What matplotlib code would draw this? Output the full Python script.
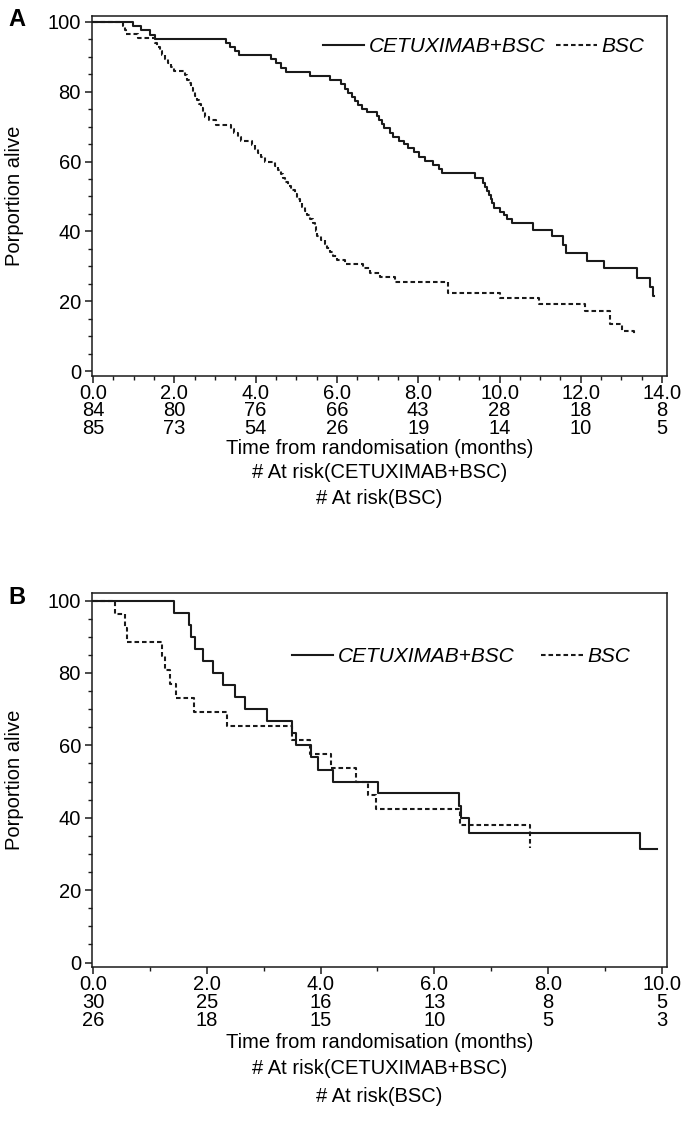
import matplotlib
matplotlib.use("Agg")
import matplotlib.pyplot as plt
import matplotlib.transforms as mtransforms
from matplotlib.ticker import MultipleLocator, FormatStrFormatter

plt.rcParams['font.family'] = ['Liberation Sans', 'DejaVu Sans']

# ---- Panel A: survival curves (time in months, % alive) ----
a_cet_t = [0, 0.98, 1.19, 1.39, 1.52, 3.28, 3.38, 3.50, 3.60, 4.39, 4.50, 4.62, 4.75,
           5.33, 5.82, 6.11, 6.20, 6.28, 6.36, 6.44, 6.52, 6.62, 6.73, 6.98, 7.04,
           7.10, 7.16, 7.30, 7.39, 7.52, 7.64, 7.75, 7.90, 8.03, 8.17, 8.37, 8.50,
           8.58, 9.40, 9.60, 9.65, 9.70, 9.73, 9.78, 9.81, 9.87, 10.01, 10.10, 10.18,
           10.30, 10.83, 11.29, 11.57, 11.64, 12.15, 12.56, 13.38, 13.69, 13.77, 13.80]
a_cet_s = [100, 98.8, 97.6, 96.4, 95.2, 94.0, 92.9, 91.7, 90.5, 89.3, 88.1, 86.9, 85.7,
           84.5, 83.3, 82.1, 80.9, 79.7, 78.5, 77.3, 76.1, 75.0, 74.3, 73.1, 71.9,
           70.7, 69.5, 68.3, 67.1, 66.0, 65.0, 63.8, 62.6, 61.4, 60.2, 59.0, 57.8,
           56.6, 55.2, 54.0, 52.8, 51.6, 50.4, 49.2, 48.0, 46.8, 45.5, 44.6, 43.6,
           42.3, 40.4, 38.8, 36.1, 33.7, 31.6, 29.4, 26.7, 24.0, 21.5, 21.5]

a_bsc_t = [0, 0.74, 0.78, 0.82, 1.11, 1.52, 1.58, 1.64, 1.70, 1.77, 1.85, 1.92, 1.99,
           2.26, 2.30, 2.35, 2.40, 2.45, 2.50, 2.55, 2.60, 2.65, 2.70, 2.75, 2.85, 3.03,
           3.40, 3.48, 3.56, 3.65, 3.90, 3.98, 4.06, 4.14, 4.22, 4.47, 4.55, 4.62, 4.68,
           4.72, 4.80, 4.88, 4.96, 5.02, 5.09, 5.15, 5.21, 5.27, 5.33, 5.41, 5.45, 5.48,
           5.50, 5.60, 5.70, 5.76, 5.82, 5.90, 5.99, 6.19, 6.64, 6.81, 7.06, 7.43, 8.74,
           10.01, 10.96, 12.11, 12.72, 13.01, 13.30, 13.34]
a_bsc_s = [100, 98.8, 97.6, 96.5, 95.3, 94.1, 92.9, 91.8, 90.6, 89.4, 88.2, 87.1, 86.0,
           84.7, 83.5, 82.4, 81.2, 80.0, 78.8, 77.6, 76.5, 75.3, 74.1, 72.9, 71.8, 70.6,
           69.4, 68.2, 67.1, 65.9, 64.7, 63.5, 62.4, 61.2, 60.0, 58.8, 57.6, 56.5, 55.3,
           54.1, 52.9, 51.8, 50.6, 49.4, 48.2, 47.1, 45.9, 44.7, 43.5, 42.3, 41.2, 40.0,
           38.8, 37.6, 36.5, 35.3, 34.1, 32.9, 31.8, 30.6, 29.4, 28.2, 26.8, 25.4, 22.3,
           20.8, 19.1, 17.2, 13.4, 11.5, 10.3, 10.3]

a_ticks = [0, 2, 4, 6, 8, 10, 12, 14]
a_risk_cet = [84, 80, 76, 66, 43, 28, 18, 8]
a_risk_bsc = [85, 73, 54, 26, 19, 14, 10, 5]

# ---- Panel B ----
b_cet_t = [0, 1.42, 1.68, 1.72, 1.79, 1.93, 2.11, 2.28, 2.49, 2.67, 3.05, 3.49, 3.57,
           3.84, 3.95, 4.22, 5.01, 6.44, 6.47, 6.61, 9.61, 9.92]
b_cet_s = [100, 96.7, 93.3, 90.0, 86.7, 83.3, 80.0, 76.7, 73.3, 70.0, 66.7, 63.3, 60.0,
           56.7, 53.3, 50.0, 46.7, 43.3, 39.9, 35.9, 31.4, 31.4]

b_bsc_t = [0, 0.39, 0.56, 0.60, 1.22, 1.27, 1.35, 1.45, 1.78, 2.36, 3.50, 3.81, 4.19,
           4.63, 4.84, 4.97, 6.45, 7.68, 7.68]
b_bsc_s = [100, 96.2, 92.3, 88.5, 84.6, 80.8, 76.9, 73.1, 69.2, 65.4, 61.5, 57.7, 53.8,
           50.0, 46.2, 42.3, 38.1, 38.1, 31.7]

b_ticks = [0, 2, 4, 6, 8, 10]
b_risk_cet = [30, 25, 16, 13, 8, 5]
b_risk_bsc = [26, 18, 15, 10, 5, 3]

W, H = 681, 1137
fig = plt.figure(figsize=(W / 100, H / 100), dpi=100)

INK = '#1a1a1a'
FS = 14.5


def panel(letter, top_px, bot_px, xlim, ylim, xminor, t1, s1, t2, s2,
          ticks, risk1, risk2, rows_px, leg_anchor, colspace):
    ax = fig.add_axes([92 / W, 1 - bot_px / H, 575 / W, (bot_px - top_px) / H])
    ax.step(t1, s1, where='post', color=INK, lw=1.5, label='CETUXIMAB+BSC')
    ax.step(t2, s2, where='post', color=INK, lw=1.5, linestyle=(0, (2.2, 1.4)), label='BSC')
    ax.set_xlim(*xlim)
    ax.set_ylim(*ylim)
    for sp in ax.spines.values():
        sp.set_linewidth(1.1)
        sp.set_color(INK)
    ax.set_xticks(ticks)
    ax.xaxis.set_minor_locator(MultipleLocator(xminor))
    ax.set_yticks([0, 20, 40, 60, 80, 100])
    ax.yaxis.set_minor_locator(MultipleLocator(5))
    ax.xaxis.set_major_formatter(FormatStrFormatter('%.1f'))
    ax.tick_params(which='major', length=5, width=1.1, color=INK, labelsize=FS, direction='out')
    ax.tick_params(which='minor', length=3, width=1.0, color=INK, direction='out')
    ax.tick_params(axis='x', pad=1)
    ax.tick_params(axis='y', pad=3)
    ax.set_ylabel('Porportion alive', fontsize=FS)
    ax.yaxis.set_label_coords(-0.118, 0.5)

    trans = mtransforms.blended_transform_factory(ax.transData, fig.transFigure)
    for x, r1, r2 in zip(ticks, risk1, risk2):
        ax.text(x, 1 - rows_px[0] / H, str(r1), transform=trans, ha='center', va='center', fontsize=FS)
        ax.text(x, 1 - rows_px[1] / H, str(r2), transform=trans, ha='center', va='center', fontsize=FS)
    fig.text(0.5 * (92 + 667) / W, 1 - rows_px[2] / H, 'Time from randomisation (months)',
             ha='center', va='center', fontsize=FS)
    fig.text(0.5 * (92 + 667) / W, 1 - rows_px[3] / H, '# At risk(CETUXIMAB+BSC)',
             ha='center', va='center', fontsize=FS)
    fig.text(0.5 * (92 + 667) / W, 1 - rows_px[4] / H, '# At risk(BSC)',
             ha='center', va='center', fontsize=FS)
    fig.text(8 / W, 1 - (top_px + 4) / H, letter, fontsize=17, fontweight='bold', va='center')

    ax.legend(loc='center right', bbox_to_anchor=leg_anchor, ncol=2, frameon=False,
              prop={'style': 'italic', 'size': FS + 0.5}, handlelength=2.0, handletextpad=0.2,
              columnspacing=colspace, borderaxespad=0)
    return ax


panel('A', 16, 376, (-0.025, 14.12), (-1.43, 101.7), 0.5,
      a_cet_t, a_cet_s, a_bsc_t, a_bsc_s, a_ticks, a_risk_cet, a_risk_bsc,
      [411, 429, 448, 473, 498], (0.975, 0.915), 0.5)

panel('B', 593, 967, (-0.018, 10.09), (-1.24, 102.1), 1.0,
      b_cet_t, b_cet_s, b_bsc_t, b_bsc_s, b_ticks, b_risk_cet, b_risk_bsc,
      [1003, 1021, 1042, 1069, 1097], (0.95, 0.83), 1.3)

fig.savefig('out.png', dpi=100)
